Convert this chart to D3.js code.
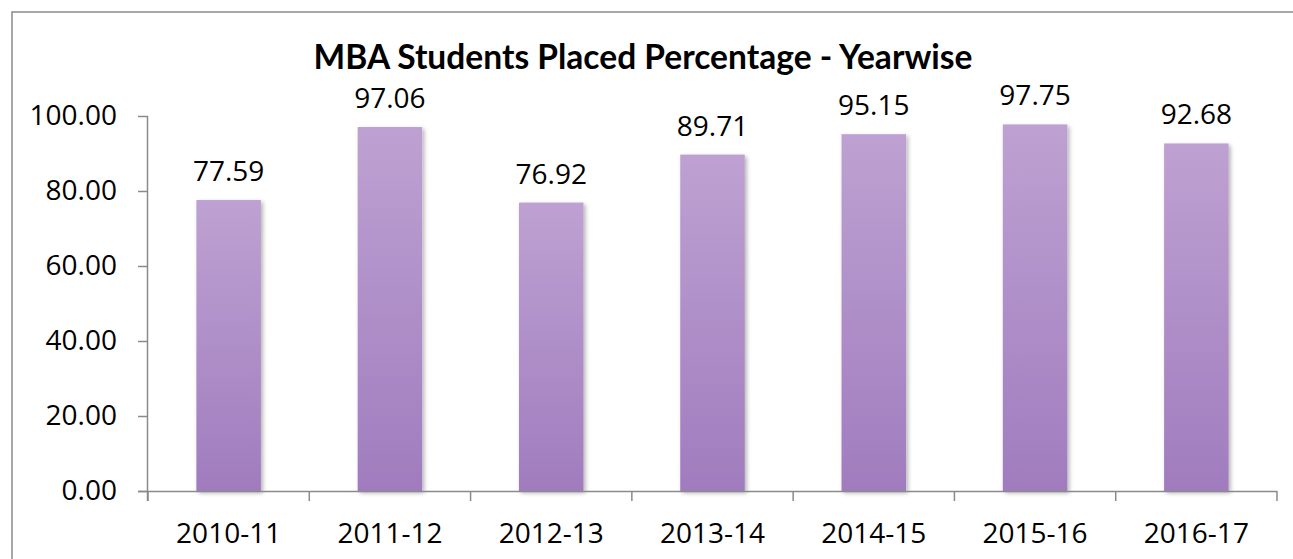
<!DOCTYPE html>
<html>
<head>
<meta charset="utf-8">
<script src="https://cdn.jsdelivr.net/npm/d3@7"></script>
<style>
  body { margin: 0; background: #fff; }
  svg { display: block; font-family: "Open Sans", sans-serif; }
</style>
</head>
<body>
<svg id="svg" width="1293" height="559"></svg>
<script>
var years = ["2010-11", "2011-12", "2012-13", "2013-14", "2014-15", "2015-16", "2016-17"];
var placed = [77.59, 97.06, 76.92, 89.71, 95.15, 97.75, 92.68];
var yTicks = [0, 20, 40, 60, 80, 100];

var svg = d3.select("#svg");

var padding = {top: 116, right: 16, bottom: 68, left: 148};
var chartArea = {
    width: 1293 - padding.left - padding.right,
    height: 559 - padding.top - padding.bottom
};

// chart border (runs off the right / bottom like the source crop)
svg.append("rect")
    .attr("x", 12).attr("y", 12)
    .attr("width", 1300).attr("height", 600)
    .attr("fill", "none")
    .attr("stroke", "#8a8a8a")
    .attr("stroke-width", 1.5);

var defs = svg.append("defs");
var grad = defs.append("linearGradient")
    .attr("id", "barGrad")
    .attr("x1", 0).attr("y1", 0).attr("x2", 0).attr("y2", 1);
grad.append("stop").attr("offset", "0%").attr("stop-color", "#bea1d2");
grad.append("stop").attr("offset", "100%").attr("stop-color", "#a07cbe");

var shadow = defs.append("filter")
    .attr("id", "shadow")
    .attr("x", "-20%").attr("y", "-20%")
    .attr("width", "140%").attr("height", "140%");
shadow.append("feDropShadow")
    .attr("dx", 2).attr("dy", 2)
    .attr("stdDeviation", 2)
    .attr("flood-color", "#000")
    .attr("flood-opacity", 0.3);

var yScale = d3.scaleLinear()
    .domain([0, 100])
    .range([chartArea.height, 0]);

var xScale = d3.scaleBand()
    .domain(years)
    .range([0, chartArea.width])
    .paddingInner(0.6)
    .paddingOuter(0.3);

var g = svg.append("g")
    .attr("transform", "translate(" + padding.left + "," + padding.top + ")");

// bars
g.selectAll("rect.bar")
    .data(placed)
    .enter().append("rect")
    .attr("class", "bar")
    .attr("x", function(d, i) { return xScale(years[i]); })
    .attr("y", function(d) { return yScale(d); })
    .attr("width", xScale.bandwidth())
    .attr("height", function(d) { return chartArea.height - yScale(d); })
    .attr("fill", "url(#barGrad)")
    .attr("filter", "url(#shadow)");

// value labels
g.selectAll("text.val")
    .data(placed)
    .enter().append("text")
    .attr("class", "val")
    .attr("x", function(d, i) { return xScale(years[i]) + xScale.bandwidth() / 2; })
    .attr("y", function(d) { return yScale(d) - 19; })
    .attr("text-anchor", "middle")
    .attr("font-size", 28)
    .attr("fill", "#000")
    .text(function(d) { return d.toFixed(2); });

// y axis
var yAxis = g.append("g")
    .call(d3.axisLeft(yScale)
        .tickValues(yTicks)
        .tickSize(10)
        .tickPadding(21)
        .tickFormat(function(d) { return d.toFixed(2); }));
yAxis.select(".domain")
    .attr("d", "M-0.5,0V" + (chartArea.height + 10));

// x axis: ticks at category boundaries
var step = chartArea.width / years.length;
var xAxis = g.append("g")
    .attr("transform", "translate(0," + chartArea.height + ")")
    .call(d3.axisBottom(xScale).tickSize(0).tickPadding(32));
xAxis.select(".domain").attr("d", "M-10,0.5H" + chartArea.width);
xAxis.selectAll(".sep")
    .data(d3.range(years.length + 1))
    .enter().append("line")
    .attr("class", "sep")
    .attr("x1", function(d) { return d * step; })
    .attr("x2", function(d) { return d * step; })
    .attr("y1", 0).attr("y2", 10);

svg.selectAll(".domain, .tick line, .sep")
    .attr("stroke", "#8a8a8a")
    .attr("stroke-width", 1.5);
svg.selectAll(".tick text")
    .attr("font-family", "Open Sans, sans-serif")
    .attr("font-size", 28)
    .attr("fill", "#000");

// title
svg.append("text")
    .attr("x", 643)
    .attr("y", 69)
    .attr("text-anchor", "middle")
    .attr("font-family", "Lato, sans-serif")
    .attr("font-size", 35)
    .attr("font-weight", "bold")
    .attr("fill", "#000")
    .attr("textLength", 659)
    .attr("lengthAdjust", "spacingAndGlyphs")
    .text("MBA Students Placed Percentage - Yearwise");
</script>
</body>
</html>
